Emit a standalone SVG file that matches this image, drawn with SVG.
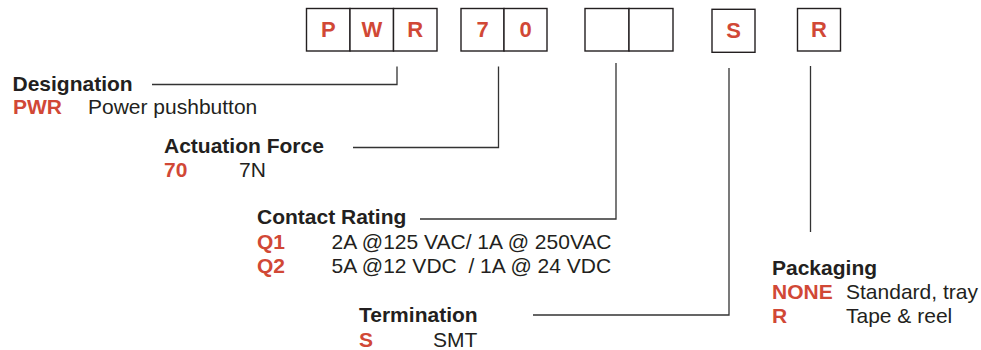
<svg xmlns="http://www.w3.org/2000/svg" width="981" height="350" viewBox="0 0 981 350">
<style>
  .box { fill: #ffffff; stroke: #231f20; stroke-width: 1.4; }
  .code { font-family: "Liberation Sans", Arial, sans-serif; font-weight: bold; font-size: 22px; fill: #d14836; text-anchor: middle; }
  .head { font-family: "Liberation Sans", Arial, sans-serif; font-weight: bold; font-size: 21px; fill: #231f20; }
  .key { font-family: "Liberation Sans", Arial, sans-serif; font-weight: bold; font-size: 21px; fill: #d14836; }
  .desc { font-family: "Liberation Sans", Arial, sans-serif; font-size: 21px; fill: #231f20; white-space: pre; }
  .conn { fill: none; stroke: #333333; stroke-width: 1.3; }
</style>
<rect width="981" height="350" fill="#ffffff"/>
<g id="code-boxes">
  <g id="box-PWR">
    <rect class="box" x="306.5" y="8.5" width="43.5" height="42.5"/>
    <rect class="box" x="350" y="8.5" width="43.5" height="42.5"/>
    <rect class="box" x="393.5" y="8.5" width="43.5" height="42.5"/>
    <text class="code" x="328.3" y="37">P</text>
    <text class="code" x="371.8" y="37">W</text>
    <text class="code" x="415.3" y="37">R</text>
  </g>
  <g id="box-70">
    <rect class="box" x="461" y="8.5" width="43" height="42.5"/>
    <rect class="box" x="504" y="8.5" width="43" height="42.5"/>
    <text class="code" x="482.5" y="37">7</text>
    <text class="code" x="525.5" y="37">0</text>
  </g>
  <g id="box-rating">
    <rect class="box" x="585" y="8.5" width="44" height="42.5"/>
    <rect class="box" x="629" y="8.5" width="44" height="42.5"/>
  </g>
  <g id="box-S">
    <rect class="box" x="712" y="9.3" width="43" height="43"/>
    <text class="code" x="733.5" y="38">S</text>
  </g>
  <g id="box-R">
    <rect class="box" x="797.5" y="8.5" width="43" height="42.5"/>
    <text class="code" x="819" y="37">R</text>
  </g>
</g>
<g id="connectors">
  <path class="conn" d="M152,84.5 H397 V66.5"/>
  <path class="conn" d="M353,147.5 H498.5 V66.5"/>
  <path class="conn" d="M420,219 H616 V63"/>
  <path class="conn" d="M533,315 H729 V68"/>
  <path class="conn" d="M810.5,66 V232"/>
</g>
<g id="designation">
  <text class="head" x="12.5" y="90.5">Designation</text>
  <text class="key" x="13" y="114">PWR</text>
  <text class="desc" x="88" y="114">Power pushbutton</text>
</g>
<g id="actuation-force">
  <text class="head" x="164" y="153">Actuation Force</text>
  <text class="key" x="164" y="176.5">70</text>
  <text class="desc" x="239" y="176.5">7N</text>
</g>
<g id="contact-rating">
  <text class="head" x="257" y="224">Contact Rating</text>
  <text class="key" x="257" y="249">Q1</text>
  <text class="desc" x="331.5" y="249">2A @125 VAC/ 1A @ 250VAC</text>
  <text class="key" x="257" y="272.5">Q2</text>
  <text class="desc" x="331.5" y="272.5">5A @12 VDC  / 1A @ 24 VDC</text>
</g>
<g id="termination">
  <text class="head" x="359" y="321.5">Termination</text>
  <text class="key" x="359" y="346.5">S</text>
  <text class="desc" x="433" y="346.5">SMT</text>
</g>
<g id="packaging">
  <text class="head" x="772" y="275">Packaging</text>
  <text class="key" x="772" y="298.5">NONE</text>
  <text class="desc" x="846" y="298.5">Standard, tray</text>
  <text class="key" x="772" y="322.5">R</text>
  <text class="desc" x="846" y="322.5">Tape &amp; reel</text>
</g>
</svg>
